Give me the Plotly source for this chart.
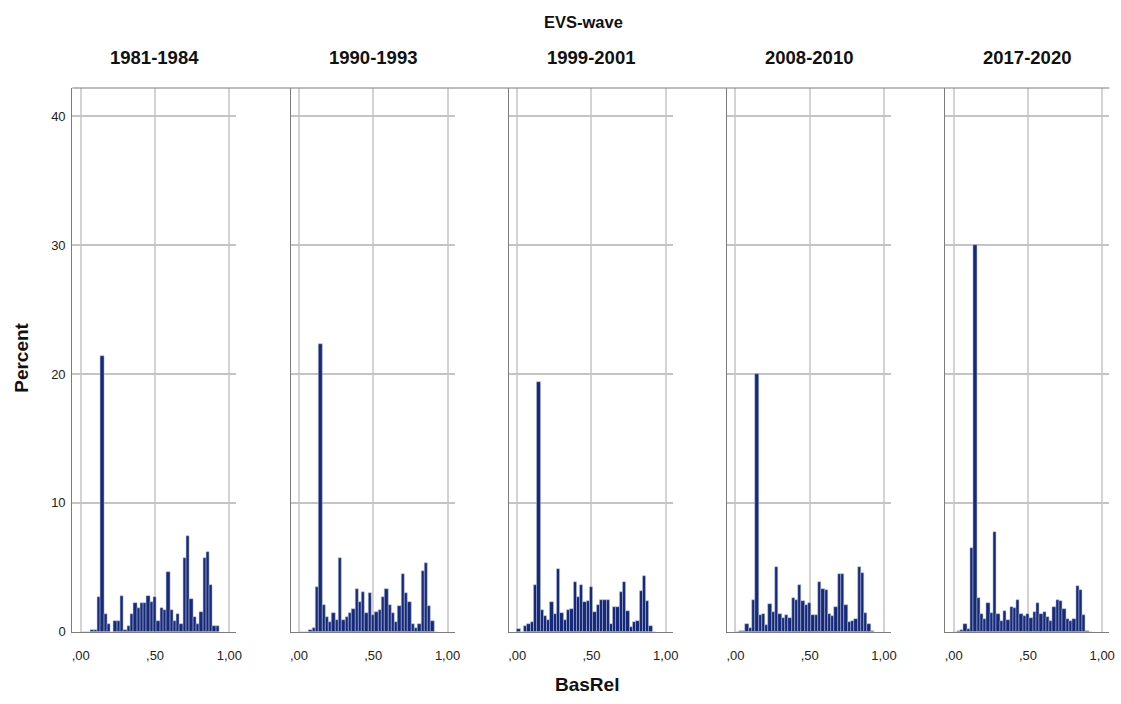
import plotly.graph_objects as go

# ---- data (percent per bin, bins of width 1/45 starting at 0) ----
waves = ["1981-1984", "1990-1993", "1999-2001", "2008-2010", "2017-2020"]
n_bins = 42
bin_width = 1 / 45

wave_1981 = [0, 0, 0, 0.13, 0.13, 2.73, 21.4, 1.35, 0.64, 0, 0.82, 0.82, 2.76, 0.13, 0.46,
             1.35, 2.2, 1.86, 2.2, 2.2, 2.76, 2.3, 2.73, 0.84, 1.86, 1.7, 4.65, 1.7, 0.82,
             1.35, 0.64, 5.7, 7.4, 2.55, 1.15, 0.64, 1.53, 5.7, 6.2, 3.63, 0.46, 0.46]
wave_1990 = [0, 0, 0, 0.13, 0.3, 3.5, 22.3, 2.1, 1.15, 0.77, 1.48, 0.95, 5.7, 0.95, 1.15,
             1.48, 1.8, 3.3, 2.3, 3.1, 1.45, 3.0, 1.33, 1.53, 1.66, 2.7, 3.3, 2.05, 1.45,
             0.77, 2.0, 4.5, 3.0, 2.3, 0.64, 0.26, 0.64, 4.7, 5.3, 2.0, 0.82, 0]
wave_1999 = [0.18, 0, 0.46, 0.64, 0.77, 3.6, 19.4, 1.66, 1.2, 0.95, 2.3, 1.4, 4.9, 1.45, 0.95,
             1.66, 1.8, 3.9, 2.7, 3.65, 2.3, 2.4, 3.45, 1.53, 2.05, 2.45, 2.45, 2.45, 0.64,
             1.9, 1.9, 3.1, 3.9, 1.6, 0.4, 0.77, 0.82, 3.15, 4.3, 2.4, 0.43, 0]
wave_2008 = [0, 0.05, 0.05, 0.64, 0.3, 2.45, 20.0, 1.28, 1.4, 0.51, 2.17, 1.53, 5.03, 1.35, 1.07,
             1.28, 1.07, 2.63, 2.48, 3.65, 2.4, 2.05, 2.25, 1.28, 1.28, 3.83, 3.32, 3.27, 1.4,
             1.23, 1.9, 4.47, 4.47, 2.05, 0.72, 0.82, 0.97, 5.03, 4.55, 1.45, 0.64, 0.05]
wave_2017 = [0, 0.05, 0.1, 0.64, 0.18, 6.5, 30.0, 2.63, 1.35, 0.97, 2.25, 1.48, 7.74, 1.4, 0.84,
             1.6, 0.9, 1.9, 1.84, 2.48, 1.35, 1.2, 1.4, 1.1, 1.53, 2.25, 1.4, 1.53, 1.15,
             0.84, 1.9, 2.48, 2.35, 1.74, 0.97, 0.82, 0.97, 3.58, 3.27, 1.28, 0.05, 0]
series = [wave_1981, wave_1990, wave_1999, wave_2008, wave_2017]

x_tickvals = [0, 0.5, 1.0]
x_ticktext = [",00", ",50", "1,00"]
y_tickvals = [0, 10, 20, 30, 40]
y_ticktext = ["0", "10", "20", "30", "40"]

# ---- layout geometry (pixels) ----
W, H = 1121, 704
FONT = "Liberation Sans, Arial, sans-serif"
panel_left0 = 71.7
panel_step = 219.4
panel_w = 165.0
y_bottom_px, y_top_px = 639.0, 89.0

bin_centers = [(k + 0.5) * bin_width for k in range(n_bins)]

fig = go.Figure()
for i, vals in enumerate(series):
    suffix = "" if i == 0 else str(i + 1)
    fig.add_trace(go.Bar(
        x=bin_centers, y=vals, width=bin_width,
        marker=dict(color="#162a78", line=dict(color="#b9c3e0", width=0.5)),
        xaxis="x" + suffix, yaxis="y" + suffix, showlegend=False,
        hoverinfo="x+y",
    ))
    left = (panel_left0 + i * panel_step) / W
    right = (panel_left0 + i * panel_step + panel_w) / W
    fig.layout["xaxis" + suffix] = dict(
        domain=[left, right], anchor="y" + suffix, range=[-0.057, 1.048],
        tickvals=x_tickvals, ticktext=x_ticktext, showgrid=True,
        gridcolor="#d3d3d3", gridwidth=1.5, zeroline=False,
        showline=True, linecolor="#7c7c7c", linewidth=1.2,
        ticks="", ticklabelstandoff=12,
        tickfont=dict(family=FONT, size=13, color="#222222"),
        fixedrange=True,
    )
    fig.layout["yaxis" + suffix] = dict(
        domain=[1 - y_bottom_px / H, 1 - y_top_px / H], anchor="x" + suffix,
        range=[0, (y_bottom_px - y_top_px) / 13.03],
        tickvals=y_tickvals, ticktext=y_ticktext, showticklabels=(i == 0),
        showgrid=True, gridcolor="#c4c4c4", gridwidth=1.5, zeroline=False,
        showline=True, linecolor="#7c7c7c", linewidth=1.2,
        ticks="", ticklabelstandoff=3,
        tickfont=dict(family=FONT, size=13, color="#222222"),
        fixedrange=True,
    )
    fig.add_annotation(
        text=waves[i], xref="paper", yref="paper",
        x=(left + right) / 2, y=1 - 58 / H, xanchor="center", yanchor="middle",
        showarrow=False, font=dict(family=FONT, size=18.5, color="#111111", weight="bold"),
    )

fig.add_annotation(text="EVS-wave", xref="paper", yref="paper", x=586 / W, y=1 - 22 / H,
                   xanchor="center", yanchor="middle", showarrow=False,
                   font=dict(family=FONT, size=16.5, color="#111111", weight="bold"))
fig.add_annotation(text="BasRel", xref="paper", yref="paper", x=589 / W, y=1 - 692 / H,
                   xanchor="center", yanchor="middle", showarrow=False,
                   font=dict(family=FONT, size=19, color="#111111", weight="bold"))
fig.add_annotation(text="Percent", xref="paper", yref="paper", x=21 / W, y=1 - 362 / H,
                   xanchor="center", yanchor="middle", textangle=-90, showarrow=False,
                   font=dict(family=FONT, size=19, color="#111111", weight="bold"))

# top frame line across all panels
fig.add_shape(type="line", xref="paper", yref="paper",
              x0=panel_left0 / W, x1=(panel_left0 + 4 * panel_step + panel_w) / W,
              y0=1 - y_top_px / H, y1=1 - y_top_px / H,
              line=dict(color="#7c7c7c", width=1.2))

fig.update_layout(
    width=W, height=H, margin=dict(l=0, r=0, t=0, b=0),
    paper_bgcolor="white", plot_bgcolor="white", bargap=0,
    font=dict(family=FONT),
)

fig.write_html("out.html")
